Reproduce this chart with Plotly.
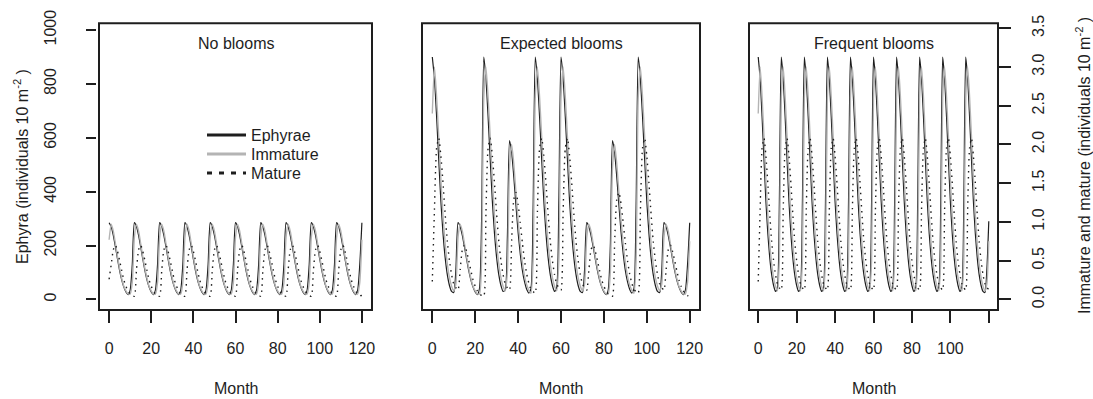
import plotly.graph_objects as go

# ---------------- data ----------------
months = list(range(121))

# Panel 1: "No blooms"  (ephyrae on left axis, immature / mature on right axis)
no_eph = [
    285, 270, 238, 195, 150, 107, 72, 46, 28, 18, 35, 130,
    285, 270, 238, 195, 150, 107, 72, 46, 28, 18, 35, 130,
    285, 270, 238, 195, 150, 107, 72, 46, 28, 18, 35, 130,
    285, 270, 238, 195, 150, 107, 72, 46, 28, 18, 35, 130,
    285, 270, 238, 195, 150, 107, 72, 46, 28, 18, 35, 130,
    285, 270, 238, 195, 150, 107, 72, 46, 28, 18, 35, 130,
    285, 270, 238, 195, 150, 107, 72, 46, 28, 18, 35, 130,
    285, 270, 238, 195, 150, 107, 72, 46, 28, 18, 35, 130,
    285, 270, 238, 195, 150, 107, 72, 46, 28, 18, 35, 130,
    285, 270, 238, 195, 150, 107, 72, 46, 28, 18, 35, 130,
    285]
no_imm = [
    0.77, 0.97, 0.88, 0.72, 0.55, 0.40, 0.27, 0.17, 0.11, 0.07, 0.07, 0.22,
    0.80, 0.97, 0.88, 0.72, 0.55, 0.40, 0.27, 0.17, 0.11, 0.07, 0.07, 0.22,
    0.80, 0.97, 0.88, 0.72, 0.55, 0.40, 0.27, 0.17, 0.11, 0.07, 0.07, 0.22,
    0.80, 0.97, 0.88, 0.72, 0.55, 0.40, 0.27, 0.17, 0.11, 0.07, 0.07, 0.22,
    0.80, 0.97, 0.88, 0.72, 0.55, 0.40, 0.27, 0.17, 0.11, 0.07, 0.07, 0.22,
    0.80, 0.97, 0.88, 0.72, 0.55, 0.40, 0.27, 0.17, 0.11, 0.07, 0.07, 0.22,
    0.80, 0.97, 0.88, 0.72, 0.55, 0.40, 0.27, 0.17, 0.11, 0.07, 0.07, 0.22,
    0.80, 0.97, 0.88, 0.72, 0.55, 0.40, 0.27, 0.17, 0.11, 0.07, 0.07, 0.22,
    0.80, 0.97, 0.88, 0.72, 0.55, 0.40, 0.27, 0.17, 0.11, 0.07, 0.07, 0.22,
    0.80, 0.97, 0.88, 0.72, 0.55, 0.40, 0.27, 0.17, 0.11, 0.07, 0.07, 0.22,
    0.77]
no_mat = [
    0.26, 0.45, 0.64, 0.70, 0.62, 0.50, 0.37, 0.25, 0.17, 0.11, 0.07, 0.05,
    0.04, 0.38, 0.64, 0.70, 0.62, 0.50, 0.37, 0.25, 0.17, 0.11, 0.07, 0.05,
    0.04, 0.38, 0.64, 0.70, 0.62, 0.50, 0.37, 0.25, 0.17, 0.11, 0.07, 0.05,
    0.04, 0.38, 0.64, 0.70, 0.62, 0.50, 0.37, 0.25, 0.17, 0.11, 0.07, 0.05,
    0.04, 0.38, 0.64, 0.70, 0.62, 0.50, 0.37, 0.25, 0.17, 0.11, 0.07, 0.05,
    0.04, 0.38, 0.64, 0.70, 0.62, 0.50, 0.37, 0.25, 0.17, 0.11, 0.07, 0.05,
    0.04, 0.38, 0.64, 0.70, 0.62, 0.50, 0.37, 0.25, 0.17, 0.11, 0.07, 0.05,
    0.04, 0.38, 0.64, 0.70, 0.62, 0.50, 0.37, 0.25, 0.17, 0.11, 0.07, 0.05,
    0.04, 0.38, 0.64, 0.70, 0.62, 0.50, 0.37, 0.25, 0.17, 0.11, 0.07, 0.05,
    0.04, 0.38, 0.64, 0.70, 0.62, 0.50, 0.37, 0.25, 0.17, 0.11, 0.07, 0.05,
    0.05]

# Panel 2: "Expected blooms"
exp_eph = [
    900, 820, 680, 520, 365, 245, 155, 92, 52, 30, 26, 110,
    285, 270, 238, 195, 150, 107, 72, 46, 28, 18, 40, 300,
    900, 820, 680, 520, 365, 245, 155, 92, 52, 30, 35, 230,
    590, 545, 455, 350, 250, 170, 108, 66, 38, 24, 40, 340,
    900, 820, 680, 520, 365, 245, 155, 92, 52, 30, 45, 360,
    900, 820, 680, 520, 365, 245, 155, 92, 52, 30, 26, 110,
    285, 270, 238, 195, 150, 107, 72, 46, 28, 18, 35, 200,
    590, 545, 455, 350, 250, 170, 108, 66, 38, 24, 40, 340,
    900, 820, 680, 520, 365, 245, 155, 92, 52, 30, 26, 110,
    285, 270, 238, 195, 150, 107, 72, 46, 28, 18, 35, 130,
    285]
exp_imm = [
    2.40, 3.00, 2.62, 2.10, 1.55, 1.08, 0.72, 0.46, 0.28, 0.17, 0.11, 0.20,
    0.80, 0.97, 0.88, 0.72, 0.55, 0.40, 0.27, 0.17, 0.11, 0.07, 0.07, 0.50,
    2.60, 3.00, 2.62, 2.10, 1.55, 1.08, 0.72, 0.46, 0.28, 0.17, 0.11, 0.35,
    1.70, 2.00, 1.75, 1.38, 1.02, 0.72, 0.48, 0.30, 0.19, 0.12, 0.08, 0.50,
    2.60, 3.00, 2.62, 2.10, 1.55, 1.08, 0.72, 0.46, 0.28, 0.17, 0.11, 0.50,
    2.60, 3.00, 2.62, 2.10, 1.55, 1.08, 0.72, 0.46, 0.28, 0.17, 0.11, 0.20,
    0.80, 0.97, 0.88, 0.72, 0.55, 0.40, 0.27, 0.17, 0.11, 0.07, 0.07, 0.35,
    1.70, 2.00, 1.75, 1.38, 1.02, 0.72, 0.48, 0.30, 0.19, 0.12, 0.08, 0.50,
    2.60, 3.00, 2.62, 2.10, 1.55, 1.08, 0.72, 0.46, 0.28, 0.17, 0.11, 0.20,
    0.80, 0.97, 0.88, 0.72, 0.55, 0.40, 0.27, 0.17, 0.11, 0.07, 0.07, 0.22,
    0.75]
exp_mat = [
    0.23, 1.15, 1.95, 2.08, 1.85, 1.50, 1.10, 0.75, 0.50, 0.32, 0.20, 0.15,
    0.12, 0.38, 0.64, 0.70, 0.62, 0.50, 0.37, 0.25, 0.17, 0.11, 0.07, 0.05,
    0.04, 1.10, 1.95, 2.08, 1.85, 1.50, 1.10, 0.75, 0.50, 0.32, 0.20, 0.15,
    0.12, 0.76, 1.29, 1.38, 1.23, 0.99, 0.73, 0.50, 0.33, 0.21, 0.13, 0.10,
    0.08, 1.12, 1.95, 2.08, 1.85, 1.50, 1.10, 0.75, 0.50, 0.32, 0.20, 0.15,
    0.12, 1.15, 1.95, 2.08, 1.85, 1.50, 1.10, 0.75, 0.50, 0.32, 0.20, 0.15,
    0.12, 0.38, 0.64, 0.70, 0.62, 0.50, 0.37, 0.25, 0.17, 0.11, 0.07, 0.05,
    0.04, 0.74, 1.29, 1.38, 1.23, 0.99, 0.73, 0.50, 0.33, 0.21, 0.13, 0.10,
    0.08, 1.12, 1.95, 2.08, 1.85, 1.50, 1.10, 0.75, 0.50, 0.32, 0.20, 0.15,
    0.12, 0.38, 0.64, 0.70, 0.62, 0.50, 0.37, 0.25, 0.17, 0.11, 0.07, 0.05,
    0.04]

# Panel 3: "Frequent blooms"
freq_eph = [
    900, 820, 680, 520, 365, 245, 155, 92, 52, 30, 45, 360,
    900, 820, 680, 520, 365, 245, 155, 92, 52, 30, 45, 360,
    900, 820, 680, 520, 365, 245, 155, 92, 52, 30, 45, 360,
    900, 820, 680, 520, 365, 245, 155, 92, 52, 30, 45, 360,
    900, 820, 680, 520, 365, 245, 155, 92, 52, 30, 45, 360,
    900, 820, 680, 520, 365, 245, 155, 92, 52, 30, 45, 360,
    900, 820, 680, 520, 365, 245, 155, 92, 52, 30, 45, 360,
    900, 820, 680, 520, 365, 245, 155, 92, 52, 30, 45, 360,
    900, 820, 680, 520, 365, 245, 155, 92, 52, 30, 45, 360,
    900, 820, 680, 520, 365, 245, 155, 92, 52, 30, 26, 110,
    290]
freq_imm = [
    2.40, 3.00, 2.62, 2.10, 1.55, 1.08, 0.72, 0.46, 0.28, 0.17, 0.11, 0.50,
    2.60, 3.00, 2.62, 2.10, 1.55, 1.08, 0.72, 0.46, 0.28, 0.17, 0.11, 0.50,
    2.60, 3.00, 2.62, 2.10, 1.55, 1.08, 0.72, 0.46, 0.28, 0.17, 0.11, 0.50,
    2.60, 3.00, 2.62, 2.10, 1.55, 1.08, 0.72, 0.46, 0.28, 0.17, 0.11, 0.50,
    2.60, 3.00, 2.62, 2.10, 1.55, 1.08, 0.72, 0.46, 0.28, 0.17, 0.11, 0.50,
    2.60, 3.00, 2.62, 2.10, 1.55, 1.08, 0.72, 0.46, 0.28, 0.17, 0.11, 0.50,
    2.60, 3.00, 2.62, 2.10, 1.55, 1.08, 0.72, 0.46, 0.28, 0.17, 0.11, 0.50,
    2.60, 3.00, 2.62, 2.10, 1.55, 1.08, 0.72, 0.46, 0.28, 0.17, 0.11, 0.50,
    2.60, 3.00, 2.62, 2.10, 1.55, 1.08, 0.72, 0.46, 0.28, 0.17, 0.11, 0.50,
    2.60, 3.00, 2.62, 2.10, 1.55, 1.08, 0.72, 0.46, 0.28, 0.17, 0.11, 0.20,
    0.75]
freq_mat = [
    0.23, 1.15, 1.95, 2.08, 1.85, 1.50, 1.10, 0.75, 0.50, 0.32, 0.20, 0.15,
    0.12, 1.15, 1.95, 2.08, 1.85, 1.50, 1.10, 0.75, 0.50, 0.32, 0.20, 0.15,
    0.12, 1.15, 1.95, 2.08, 1.85, 1.50, 1.10, 0.75, 0.50, 0.32, 0.20, 0.15,
    0.12, 1.15, 1.95, 2.08, 1.85, 1.50, 1.10, 0.75, 0.50, 0.32, 0.20, 0.15,
    0.12, 1.15, 1.95, 2.08, 1.85, 1.50, 1.10, 0.75, 0.50, 0.32, 0.20, 0.15,
    0.12, 1.15, 1.95, 2.08, 1.85, 1.50, 1.10, 0.75, 0.50, 0.32, 0.20, 0.15,
    0.12, 1.15, 1.95, 2.08, 1.85, 1.50, 1.10, 0.75, 0.50, 0.32, 0.20, 0.15,
    0.12, 1.15, 1.95, 2.08, 1.85, 1.50, 1.10, 0.75, 0.50, 0.32, 0.20, 0.15,
    0.12, 1.15, 1.95, 2.08, 1.85, 1.50, 1.10, 0.75, 0.50, 0.32, 0.20, 0.15,
    0.12, 1.15, 1.95, 2.08, 1.85, 1.50, 1.10, 0.75, 0.50, 0.32, 0.20, 0.15,
    0.13]

panel_titles = ["No blooms", "Expected blooms", "Frequent blooms"]
series_names = ["Ephyrae", "Immature", "Mature"]
x_ticks_full = [0, 20, 40, 60, 80, 100, 120]
x_ticks_short = [0, 20, 40, 60, 80, 100]     # panel 3: 120 tick has no label
x_tick_unlabelled = [120]
left_ticks = [0, 200, 400, 600, 800, 1000]
right_ticks = [0, 0.5, 1.0, 1.5, 2.0, 2.5, 3.0, 3.5]
right_ticktext = ["0.0", "0.5", "1.0", "1.5", "2.0", "2.5", "3.0", "3.5"]

# ---------------- layout geometry (pixels) ----------------
W, H = 1093, 399
FONT = "Liberation Sans, Arial, sans-serif"
FS = 16
INK = "#1e1e1e"
GREY = "#b4b4b4"


def fx(p):
    return p / W


def fy(p):
    return 1 - p / H


boxes = [(99, 372), (422, 700), (749, 998)]
BOX_TOP, BOX_BOT = 23.3, 310
X_RANGE = [-4.8, 124.8]
LEFT_RANGE = [-39, 1025]
RIGHT_RANGE = [-0.137, 3.564]

data_sets = [(no_eph, no_imm, no_mat), (exp_eph, exp_imm, exp_mat),
             (freq_eph, freq_imm, freq_mat)]

fig = go.Figure()
layout = dict(
    width=W, height=H,
    margin=dict(l=0, r=0, t=0, b=0, pad=0, autoexpand=False),
    paper_bgcolor="white", plot_bgcolor="rgba(0,0,0,0)",
    font=dict(family=FONT, size=FS, color=INK),
    showlegend=True,
)
shapes = []
annotations = []

for i, ((x0, x1), (eph, imm, mat)) in enumerate(zip(boxes, data_sets)):
    xa = "x" if i == 0 else f"x{i + 1}"
    yl = "y" if i == 0 else f"y{2 * i + 1}"
    yr = f"y{2 * i + 2}"
    xkey = "xaxis" if i == 0 else f"xaxis{i + 1}"
    ylkey = "yaxis" if i == 0 else f"yaxis{2 * i + 1}"
    yrkey = f"yaxis{2 * i + 2}"
    dom_x = [fx(x0), fx(x1)]
    dom_y = [fy(BOX_BOT), fy(BOX_TOP)]

    xa_cfg = dict(
        domain=dom_x, range=X_RANGE, anchor="free", position=fy(BOX_BOT),
        tickmode="array", tickvals=x_ticks_short if i == 2 else x_ticks_full,
        ticks="outside", ticklen=12, tickwidth=1.5, tickcolor=INK,
        ticklabelstandoff=12, automargin=False,
        showline=False, showgrid=False, zeroline=False, fixedrange=True,
        tickfont=dict(size=FS, family=FONT, color=INK),
    )
    if i == 2:
        xa_cfg["minor"] = dict(tickmode="array", tickvals=x_tick_unlabelled,
                               ticks="outside", ticklen=12, tickwidth=1.5,
                               tickcolor=INK, showgrid=False)
    layout[xkey] = xa_cfg
    layout[ylkey] = dict(
        domain=dom_y, range=LEFT_RANGE, anchor="free", position=fx(96),
        showgrid=False, zeroline=False, showline=False, fixedrange=True,
        visible=(i == 0), automargin=False,
        tickmode="array", tickvals=left_ticks, ticks="outside", ticklen=10,
        tickwidth=1.5, tickcolor=INK, tickangle=-90, ticklabelstandoff=24,
        tickfont=dict(size=FS, family=FONT, color=INK),
    )
    layout[yrkey] = dict(
        range=RIGHT_RANGE, overlaying=yl, side="right", anchor="free",
        position=fx(x1), showgrid=False, zeroline=False, showline=False,
        fixedrange=True, visible=(i == 2), automargin=False,
        tickmode="array", tickvals=right_ticks, ticktext=right_ticktext,
        ticks="outside", ticklen=12, tickwidth=1.5, tickcolor=INK,
        tickangle=-90, ticklabelstandoff=14,
        tickfont=dict(size=FS, family=FONT, color=INK),
    )

    fig.add_trace(go.Scatter(
        x=months, y=imm, xaxis=xa, yaxis=yr, mode="lines", showlegend=False,
        line=dict(color=GREY, width=1.4, shape="spline", smoothing=0.6),
        name="Immature"))
    fig.add_trace(go.Scatter(
        x=months, y=mat, xaxis=xa, yaxis=yr, mode="lines", showlegend=False,
        line=dict(color=INK, width=1.4, dash="1.5px,4.5px", shape="spline",
                  smoothing=0.6),
        name="Mature"))
    fig.add_trace(go.Scatter(
        x=months, y=eph, xaxis=xa, yaxis=yl, mode="lines", showlegend=False,
        line=dict(color=INK, width=1.2, shape="spline", smoothing=0.6),
        name="Ephyrae"))

    # frame
    shapes.append(dict(type="rect", xref="paper", yref="paper",
                       x0=fx(x0), x1=fx(x1), y0=fy(BOX_BOT), y1=fy(BOX_TOP),
                       line=dict(color=INK, width=2), layer="above"))

    annotations.append(dict(text=panel_titles[i], xref="paper", yref="paper",
                            x=fx((x0 + x1) / 2), y=fy(43), showarrow=False,
                            xanchor="center", yanchor="middle",
                            font=dict(size=FS, family=FONT, color=INK)))
    annotations.append(dict(text="Month", xref="paper", yref="paper",
                            x=fx((x0 + x1) / 2), y=fy(388), showarrow=False,
                            xanchor="center", yanchor="middle",
                            font=dict(size=FS, family=FONT, color=INK)))

annotations.append(dict(text="Ephyra (individuals 10 m<sup>-2</sup> )",
                        xref="paper", yref="paper", x=fx(21), y=fy(167),
                        textangle=-90, showarrow=False, xanchor="center",
                        yanchor="middle",
                        font=dict(size=FS, family=FONT, color=INK)))
annotations.append(dict(text="Immature and mature (individuals 10 m<sup>-2</sup> )",
                        xref="paper", yref="paper", x=fx(1083), y=fy(166),
                        textangle=-90, showarrow=False, xanchor="center",
                        yanchor="middle",
                        font=dict(size=FS, family=FONT, color=INK)))

# legend entries (one legend per row so row spacing can match)
leg_styles = [dict(color=INK, width=3), dict(color=GREY, width=3),
              dict(color=INK, width=3, dash="5px,7px")]
leg_rows = [135, 154, 173]
for k, (nm, st, row) in enumerate(zip(series_names, leg_styles, leg_rows)):
    lkey = "legend" if k == 0 else f"legend{k + 1}"
    fig.add_trace(go.Scatter(x=[None], y=[None], mode="lines", name=nm,
                             line=st, showlegend=True, legend=lkey,
                             xaxis="x", yaxis="y"))
    layout[lkey] = dict(x=fx(202), y=fy(row), xanchor="left", yanchor="middle",
                        bgcolor="rgba(0,0,0,0)", borderwidth=0, itemwidth=39,
                        font=dict(size=FS, family=FONT, color=INK))

layout["shapes"] = shapes
layout["annotations"] = annotations
fig.update_layout(**layout)

fig.write_html("out.html", config={"displayModeBar": False},
               post_script="document.body.style.margin='0';document.body.style.overflow='hidden';")
